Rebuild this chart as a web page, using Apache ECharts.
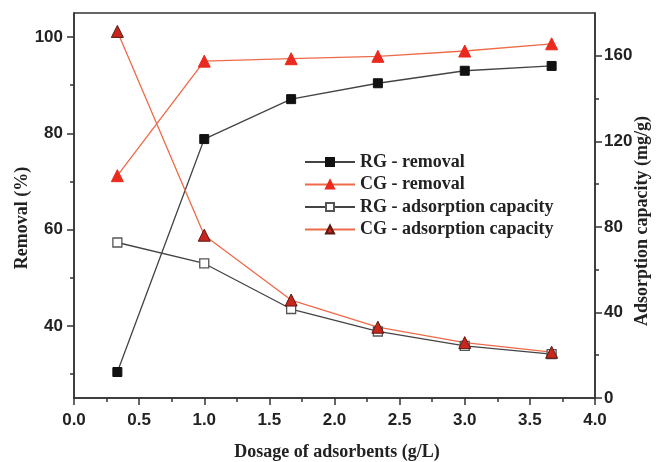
<!DOCTYPE html>
<html><head><meta charset="utf-8">
<script src="https://cdn.jsdelivr.net/npm/echarts@6/dist/echarts.min.js"></script>
<style>html,body{margin:0;padding:0;background:#fff}#c{width:656px;height:462px}</style>
</head><body><div id="c"></div>
<script>
const dosage = [0.333, 1.0, 1.667, 2.333, 3.0, 3.667];
const rgRemoval = [30.4, 78.8, 87.1, 90.4, 93.0, 94.0];
const cgRemoval = [71.2, 95.0, 95.5, 96.0, 97.1, 98.6];
const rgCapacity = [72.7, 62.9, 41.6, 31.1, 24.4, 20.5];
const cgCapacity = [171.4, 76.1, 45.8, 33.1, 25.9, 21.4];
const leftTicks = [40, 60, 80, 100];
const leftMinor = [30, 50, 70, 90];
const rightTicks = [0, 40, 80, 120, 160];
const rightMinor = [20, 60, 100, 140];

const pairs = v => dosage.map((x, i) => [x, v[i]]);
const axisCol = '#333';
const labFont = {fontFamily: 'Liberation Sans', fontWeight: 'bold', fontSize: 17, color: '#222'};
const serif = 'Liberation Serif';

const chart = echarts.init(document.getElementById('c'), null, {renderer: 'canvas'});
chart.setOption({
  backgroundColor: '#fff',
  animation: false,
  grid: {left: 74, right: 61, top: 13, bottom: 64, show: true, borderColor: axisCol, borderWidth: 1.5, backgroundColor: 'transparent'},
  xAxis: {
    type: 'value', min: 0, max: 4, interval: 0.5,
    axisLine: {lineStyle: {color: axisCol, width: 1.5}},
    axisTick: {inside: false, length: 7, lineStyle: {color: axisCol, width: 1.5}},
    minorTick: {show: true, splitNumber: 2, length: 4, lineStyle: {color: axisCol, width: 1.5}},
    splitLine: {show: false},
    axisLabel: Object.assign({margin: 14, formatter: v => v.toFixed(1)}, labFont)
  },
  yAxis: [
    {
      type: 'value', position: 'left', min: 25, max: 105,
      axisLine: {show: true, lineStyle: {color: axisCol, width: 1.5}},
      axisTick: {show: true, length: 7, customValues: leftTicks, lineStyle: {color: axisCol, width: 1.5}},
      axisLabel: Object.assign({margin: 11, customValues: leftTicks}, labFont),
      splitLine: {show: false}
    },
    {
      type: 'value', position: 'right', min: 0, max: 180,
      axisLine: {show: true, lineStyle: {color: axisCol, width: 1.5}},
      axisTick: {show: true, length: 7, customValues: rightTicks, lineStyle: {color: axisCol, width: 1.5}},
      axisLabel: Object.assign({margin: 9, customValues: rightTicks}, labFont),
      splitLine: {show: false}
    },
    {
      type: 'value', position: 'left', min: 25, max: 105,
      axisLine: {show: false},
      axisTick: {show: true, length: 4, customValues: leftMinor, lineStyle: {color: axisCol, width: 1.5}},
      axisLabel: {show: false},
      splitLine: {show: false}
    },
    {
      type: 'value', position: 'right', min: 0, max: 180,
      axisLine: {show: false},
      axisTick: {show: true, length: 4, customValues: rightMinor, lineStyle: {color: axisCol, width: 1.5}},
      axisLabel: {show: false},
      splitLine: {show: false}
    }
  ],
  legend: {
    orient: 'vertical', left: 299, top: 148, itemWidth: 50, itemHeight: 10, itemGap: 4.5,
    textStyle: {fontFamily: serif, fontWeight: 'bold', fontSize: 18, color: '#222'},
    data: ['RG - removal', 'CG - removal', 'RG - adsorption capacity', 'CG - adsorption capacity']
  },
  series: [
    {name: 'RG - removal', type: 'line', yAxisIndex: 0, data: pairs(rgRemoval),
     symbol: 'rect', symbolSize: 9, lineStyle: {color: '#444', width: 1.3},
     itemStyle: {color: '#111', borderColor: '#111', borderWidth: 1}},
    {name: 'CG - removal', type: 'line', yAxisIndex: 0, data: pairs(cgRemoval),
     symbol: 'triangle', symbolSize: 12, lineStyle: {color: '#ee6a48', width: 1.3},
     itemStyle: {color: '#ea2a1e', borderColor: '#ea2a1e', borderWidth: 1}},
    {name: 'RG - adsorption capacity', type: 'line', yAxisIndex: 1, data: pairs(rgCapacity),
     symbol: 'rect', symbolSize: 9, lineStyle: {color: '#444', width: 1.3},
     itemStyle: {color: '#fff', borderColor: '#555', borderWidth: 1.3}},
    {name: 'CG - adsorption capacity', type: 'line', yAxisIndex: 1, data: pairs(cgCapacity),
     symbol: 'triangle', symbolSize: 12, lineStyle: {color: '#ee6a48', width: 1.3},
     itemStyle: {color: '#c8261c', borderColor: '#5a1a12', borderWidth: 1}}
  ],
  graphic: [
    {type: 'text', x: 22, y: 218, rotation: Math.PI / 2,
     style: {text: 'Removal (%)', fontFamily: serif, fontWeight: 'bold', fontSize: 18, fill: '#222', align: 'center', verticalAlign: 'middle'}},
    {type: 'text', x: 642, y: 221, rotation: Math.PI / 2,
     style: {text: 'Adsorption capacity (mg/g)', fontFamily: serif, fontWeight: 'bold', fontSize: 18, fill: '#222', align: 'center', verticalAlign: 'middle'}},
    {type: 'text', x: 337, y: 452,
     style: {text: 'Dosage of adsorbents (g/L)', fontFamily: serif, fontWeight: 'bold', fontSize: 18, fill: '#222', align: 'center', verticalAlign: 'middle'}}
  ]
});
</script></body></html>
